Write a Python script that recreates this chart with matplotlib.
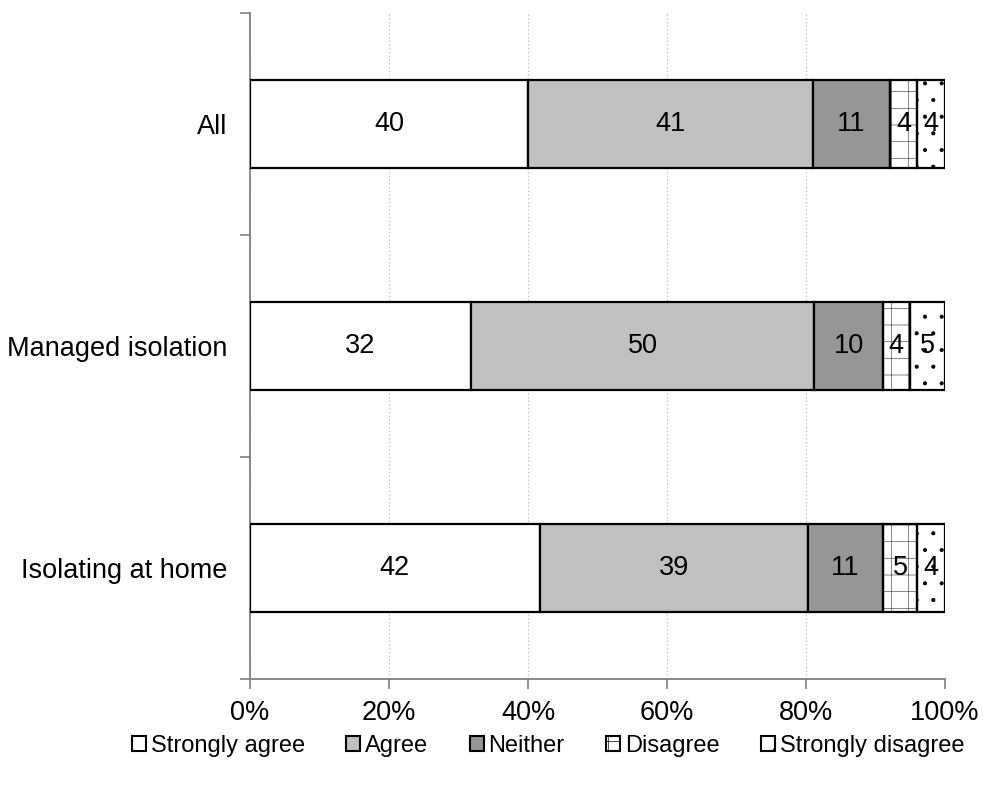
import matplotlib
matplotlib.use("Agg")
import matplotlib.pyplot as plt
from matplotlib.patches import Patch
import numpy as np

plt.rcParams['font.family'] = ['Liberation Sans', 'DejaVu Sans']
plt.rcParams['hatch.linewidth'] = 0.5

categories = ["All", "Managed isolation", "Isolating at home"]
series_names = ["Strongly agree", "Agree", "Neither", "Disagree", "Strongly disagree"]
# segment shares (percent of each bar)
strongly_agree = [40.0, 31.8, 41.7]
agree = [41.0, 49.4, 38.6]
neither = [11.1, 9.9, 10.8]
disagree = [3.9, 3.8, 4.9]
strongly_disagree = [4.0, 5.1, 4.0]
# printed data labels
label_strongly_agree = [40, 32, 42]
label_agree = [41, 50, 39]
label_neither = [11, 10, 11]
label_disagree = [4, 4, 5]
label_strongly_disagree = [4, 5, 4]
xticks = [0, 20, 40, 60, 80, 100]
xtick_labels = ["0%", "20%", "40%", "60%", "80%", "100%"]

values = [strongly_agree, agree, neither, disagree, strongly_disagree]
labels = [label_strongly_agree, label_agree, label_neither, label_disagree, label_strongly_disagree]
facecolors = ["white", "#c0c0c0", "#969696", "white", "white"]
hatches = [None, None, None, "+", "."]
hatchcolors = [None, None, None, "#555555", "black"]

fig = plt.figure(figsize=(9.83, 7.85), dpi=100)
ax = fig.add_axes([250/983, 1-679/785, 695/983, 666/785])

y = np.arange(len(categories))
left = np.zeros(len(categories))
bar_h = 0.4
for vals, labs, fc, h, hc in zip(values, labels, facecolors, hatches, hatchcolors):
    vals = np.array(vals)
    if h is not None:
        ax.barh(y, vals, left=left, height=bar_h, color=fc, hatch=h,
                edgecolor=hc, linewidth=0, zorder=2)
        ax.barh(y, vals, left=left, height=bar_h, fill=False,
                edgecolor="black", linewidth=1.6, zorder=3)
    else:
        ax.barh(y, vals, left=left, height=bar_h, color=fc,
                edgecolor="black", linewidth=1.6, zorder=3)
    for yi, l0, v, lab in zip(y, left, vals, labs):
        ax.text(l0 + v/2, yi, str(lab), ha="center", va="center",
                fontsize=19.5, color="black", zorder=4)
    left = left + vals

ax.set_xlim(0, 100)
ax.set_ylim(2.5, -0.5)
ax.set_xticks(xticks)
ax.set_xticklabels(xtick_labels, fontsize=19.5)
ax.set_yticks(y)
ax.set_yticklabels(categories, fontsize=19.5)
ax.set_yticks([-0.5, 0.5, 1.5, 2.5], minor=True)
ax.tick_params(axis="y", which="major", length=0, pad=16)
ax.tick_params(axis="y", which="minor", length=7, width=1.2, color="#808080", direction="out")
ax.tick_params(axis="x", which="major", length=7, width=1.2, color="#808080", direction="out", pad=8)

for s in ["top", "right"]:
    ax.spines[s].set_visible(False)
for s in ["left", "bottom"]:
    ax.spines[s].set_color("#808080")
    ax.spines[s].set_linewidth(1.3)

ax.xaxis.grid(True, linestyle=(0, (1, 2)), color="#bbbbbb", linewidth=0.9)
ax.set_axisbelow(True)

handles = [Patch(facecolor=fc, edgecolor="black", hatch=h, linewidth=1.5)
           for fc, h in zip(facecolors, hatches)]
leg = fig.legend(handles, series_names, loc="center", ncol=5, frameon=False,
                 bbox_to_anchor=(548/983, 1-746/785), bbox_transform=fig.transFigure,
                 fontsize=17, handlelength=0.6, handleheight=0.6,
                 handletextpad=0.2, columnspacing=1.75)

fig.savefig("out.png", dpi=100)
